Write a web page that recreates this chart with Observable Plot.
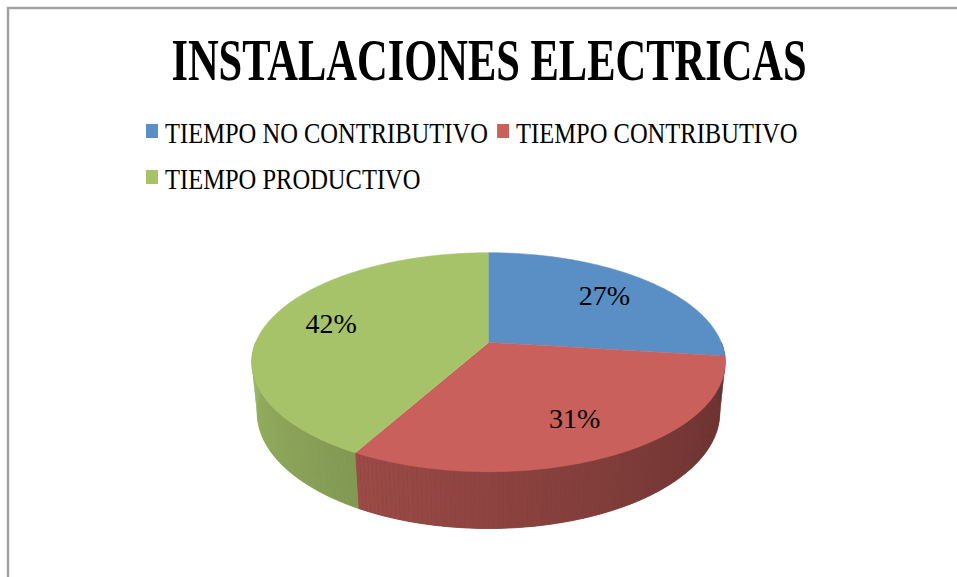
<!DOCTYPE html>
<html><head><meta charset="utf-8">
<script src="https://cdn.jsdelivr.net/npm/d3@7"></script>
<script src="https://cdn.jsdelivr.net/npm/@observablehq/plot@0.6"></script>
<style>
html,body{margin:0;padding:0;background:#fff;}
#chart{position:relative;width:957px;height:577px;overflow:hidden;background:#fff;}
#chart svg{position:absolute;left:0;top:0;}
</style></head><body><div id="chart"></div>
<script>
// ---- data ----
const title = "INSTALACIONES ELECTRICAS";
const categories = ["TIEMPO NO CONTRIBUTIVO", "TIEMPO CONTRIBUTIVO", "TIEMPO PRODUCTIVO"];
const values = [27, 31, 42];
const labels = ["27%", "31%", "42%"];
const colors = ["#5a8fc6", "#c9605b", "#a6c36a"];

// ---- 3D view (perspective camera) ----
const VIEW = {dist: 4.94, cosA: 0.89, sinA: 0.455, depth: 0.245, focal: 1150, cx: 488, cy: 342};
function project(X, Y, Z) {
  const den = VIEW.dist - Y * VIEW.sinA - Z * VIEW.cosA;
  return {x: X / den, y: (Z * VIEW.sinA - Y * VIEW.cosA) / den};
}
function shade(color, f) {
  const c = d3.rgb(color);
  return d3.rgb(c.r * f, c.g * f, c.b * f).formatHex();
}
const lightAt = a => Math.min(1, 0.47 + 0.0026 * (a * 180 / Math.PI));

const arcs = d3.pie().sort(null).value(d => d)(values);
const step = Math.PI / 180;
const tops = [], bases = [], strips = [], labelData = [];
arcs.forEach((a, i) => {
  const p0 = a.startAngle - Math.PI / 2, p1 = a.endAngle - Math.PI / 2;
  // top face
  const n = Math.max(2, Math.ceil((p1 - p0) / step));
  const poly = [project(0, 0, 0)];
  for (let j = 0; j <= n; j++) {
    const p = p0 + (p1 - p0) * j / n;
    poly.push(project(Math.cos(p), 0, Math.sin(p)));
  }
  poly.forEach(pt => tops.push({id: "top" + i, x: pt.x, y: pt.y, fill: colors[i]}));
  // side (front half only)
  const s0 = Math.max(p0, 0), s1 = Math.min(p1, Math.PI);
  if (s1 > s0) {
    const m = Math.max(1, Math.ceil((s1 - s0) / step));
    const upper = [], lower = [];
    for (let j = 0; j <= m; j++) {
      const q = s0 + (s1 - s0) * j / m;
      upper.push(project(Math.cos(q), 0, Math.sin(q)));
      lower.push(project(Math.cos(q), -VIEW.depth, Math.sin(q)));
    }
    const baseCol = shade(colors[i], lightAt((s0 + s1) / 2));
    upper.concat(lower.slice().reverse()).forEach(pt => bases.push({id: "base" + i, x: pt.x, y: pt.y, fill: baseCol}));
    for (let j = 0; j < m; j++) {
      const q0 = s0 + (s1 - s0) * j / m, q1 = s0 + (s1 - s0) * (j + 1) / m;
      const mid = (q0 + q1) / 2;
      const col = shade(colors[i], lightAt(mid));
      const pts = [upper[j], upper[j + 1], lower[j + 1], lower[j]];
      strips.push({z: Math.sin(mid), id: "side" + i + "_" + j, pts, fill: col});
    }
  }
  // label
  const pm = (p0 + p1) / 2, r = 0.72;
  const lp = project(r * Math.cos(pm), 0, r * Math.sin(pm));
  labelData.push({x: lp.x, y: lp.y, text: labels[i]});
});
strips.sort((a, b) => a.z - b.z);
const sideData = strips.flatMap(s => s.pts.map(p => ({id: s.id, x: p.x, y: p.y, fill: s.fill})));

const chart = document.getElementById("chart");
const plot = Plot.plot({
  width: 957, height: 577, margin: 0,
  style: {background: "transparent"},
  x: {domain: [-1, 1], range: [VIEW.cx - VIEW.focal, VIEW.cx + VIEW.focal], axis: null},
  y: {domain: [-1, 1], range: [VIEW.cy - VIEW.focal, VIEW.cy + VIEW.focal], axis: null},
  color: {type: "identity"},
  marks: [
    Plot.line(bases, {x: "x", y: "y", z: "id", fill: "fill", stroke: "fill", strokeWidth: 0.8}),
    Plot.line(sideData, {x: "x", y: "y", z: "id", fill: "fill", stroke: "none"}),
    Plot.line(tops, {x: "x", y: "y", z: "id", fill: "fill", stroke: "fill", strokeWidth: 0.6}),
    Plot.text(labelData, {x: "x", y: "y", text: "text", fontSize: 28, fontFamily: "Liberation Serif", fill: "black"})
  ]
});
chart.append(plot);

// ---- title, legend, frame ----
const over = d3.select(chart).append("svg")
  .attr("width", 957).attr("height", 577).style("pointer-events", "none");
over.append("rect").attr("x", 8).attr("y", 8).attr("width", 1000).attr("height", 1000)
  .attr("fill", "none").attr("stroke", "#a0a0a0").attr("stroke-width", 2.4);

over.append("g").attr("transform", "translate(489,80) scale(0.708,1)")
  .append("text").attr("x", 0).attr("y", 0)
  .attr("text-anchor", "middle")
  .style("font-family", "'Liberation Serif', serif").style("font-weight", "bold")
  .style("font-size", "60px").attr("fill", "#000").text(title);

const legendLeft = 146, legendMax = 840, rowH = 46, squareW = 12, squareH = 14, gapSq = 7, gapItem = 9, squeeze = 0.818;
let lx = legendLeft, ly = 143;
categories.forEach((c, i) => {
  const g = over.append("g");
  const tx = g.append("text")
    .style("font-family", "'Liberation Serif', serif").style("font-size", "30px")
    .attr("fill", "#000").text(c);
  const w = tx.node().getComputedTextLength() * squeeze;
  if (lx + squareW + gapSq + w > legendMax && lx > legendLeft) { lx = legendLeft; ly += rowH; }
  over.append("rect").attr("x", lx).attr("y", ly - 19).attr("width", squareW).attr("height", squareH).attr("fill", colors[i]);
  g.attr("transform", `translate(${lx + squareW + gapSq},${ly}) scale(${squeeze},1)`);
  lx += squareW + gapSq + w + gapItem;
});
</script></body></html>
